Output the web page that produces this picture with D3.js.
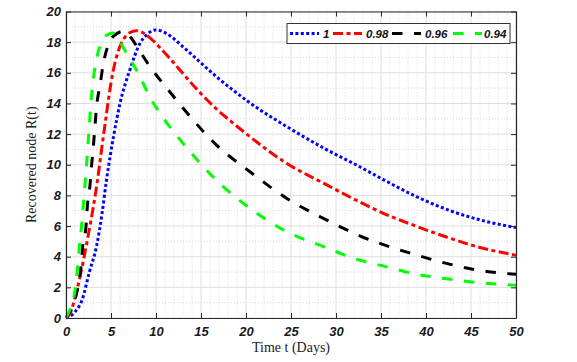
<!DOCTYPE html>
<html>
<head>
<meta charset="utf-8">
<script src="https://d3js.org/d3.v7.min.js"></script>
<style>
  body { margin: 0; background: #fff; }
  svg { display: block; }
  .tick text { font-family: "Liberation Sans", Arial, sans-serif; font-weight: bold; font-style: italic; font-size: 13px; fill: #1a1a1a; }
  .axis-title { font-family: "Liberation Serif", "Times New Roman", serif; font-size: 14px; fill: #222; }
</style>
</head>
<body>
<svg id="drawing_region"></svg>
<script>
// series labels (alpha)
const seriesNames = ['1', '0.98', '0.96', '0.94'];
const seriesColors = ['#0000ff', '#ff0000', '#000000', '#00ff00'];

// values: time (days) and R(t)
const t1 = [0, 1, 1.8, 2.6, 3.4, 4.0, 4.5, 5.3, 6.0, 7.1, 8.2, 9.0, 10.0, 11.2, 13.0, 14.8, 16.7, 18.6, 20.4, 24.5, 28.6, 32.7, 35.2, 39, 42.7, 46, 50];
const r1 = [0, 0.4, 1.2, 3.0, 4.7, 6.8, 9.0, 11.9, 14.0, 16.2, 17.9, 18.5, 18.8, 18.55, 17.7, 16.75, 15.75, 14.85, 14.05, 12.5, 11.1, 9.85, 9.05, 7.9, 7.0, 6.4, 5.9];

const t098 = [0, 0.45, 1.2, 1.95, 2.5, 3.05, 3.5, 4.0, 4.4, 4.8, 5.2, 5.8, 6.4, 7.0, 7.8, 8.6, 9.3, 10.5, 11.6, 13.0, 14.5, 16.7, 18.5, 20.4, 22.5, 24.5, 28.6, 32.7, 35.2, 39, 42.7, 46, 50];
const r098 = [0, 0.3, 1.8, 3.8, 5.5, 7.3, 9.0, 11.2, 12.9, 14.6, 16.0, 17.4, 18.2, 18.6, 18.75, 18.6, 18.3, 17.6, 16.9, 15.95, 14.95, 13.65, 12.75, 11.85, 10.9, 10.1, 8.8, 7.55, 6.85, 5.97, 5.2, 4.6, 4.1];

const t096 = [0, 0.6, 1.26, 1.67, 1.85, 2.22, 2.37, 2.67, 2.85, 3.04, 3.22, 3.4, 3.78, 4.15, 4.8, 5.5, 6.3, 7.2, 8.1, 9.33, 11.2, 13, 16.7, 20.4, 24.5, 28.6, 31.2, 32.7, 35.2, 39, 42.7, 46, 50];
const r096 = [0, 0.6, 1.83, 3.35, 4.66, 5.97, 7.27, 8.69, 10.0, 11.2, 12.5, 13.8, 15.2, 16.6, 17.95, 18.5, 18.7, 18.3, 17.5, 16.4, 15.0, 13.7, 11.3, 9.56, 7.82, 6.5, 5.75, 5.35, 4.8, 4.1, 3.5, 3.1, 2.85];

const t094 = [0, 0.4, 1.0, 1.3, 1.5, 1.74, 1.93, 2.11, 2.3, 2.45, 2.6, 2.76, 2.98, 3.33, 3.96, 4.5, 5.2, 6.0, 7.0, 8.0, 9.33, 11.0, 13.0, 16.7, 21.2, 24.5, 28.6, 32.3, 35.2, 39, 42.7, 46, 50];
const r094 = [0, 0.5, 1.8, 3.35, 4.75, 6.1, 7.4, 8.7, 10.1, 11.4, 12.6, 14.0, 15.3, 16.7, 18.0, 18.45, 18.6, 18.0, 17.0, 16.0, 14.4, 12.9, 11.4, 9.0, 6.84, 5.64, 4.66, 3.83, 3.4, 2.85, 2.53, 2.3, 2.14];

const xTicks = [0, 5, 10, 15, 20, 25, 30, 35, 40, 45, 50];
const yTicks = [0, 2, 4, 6, 8, 10, 12, 14, 16, 18, 20];

const seriesT = [t1, t098, t096, t094];
const seriesR = [r1, r098, r096, r094];
const dashes = ['3,2.4', '10,3.5,4,3.5', '10.5,11.5', '10.5,11.5'];

const config = {
    width: 577,
    height: 362,
    margin: {top: 11.5, right: 61, bottom: 44, left: 66}
};

const svg = d3.select('#drawing_region')
    .attr('width', config.width)
    .attr('height', config.height);

const innerW = config.width - config.margin.left - config.margin.right;
const innerH = config.height - config.margin.top - config.margin.bottom;

const chart = svg.append('g')
    .attr('transform', `translate(${config.margin.left}, ${config.margin.top})`);

const x = d3.scaleLinear().domain([0, 50]).range([0, innerW]);
const y = d3.scaleLinear().domain([0, 20]).range([innerH, 0]);

// minor grid (dotted)
chart.append('g')
    .selectAll('line')
    .data(d3.range(1, 50).filter(d => d % 5 !== 0))
    .join('line')
    .attr('x1', d => x(d)).attr('x2', d => x(d))
    .attr('y1', 0).attr('y2', innerH)
    .attr('stroke', '#cfcfcf').attr('stroke-width', 0.8)
    .attr('stroke-dasharray', '1,2');
chart.append('g')
    .selectAll('line')
    .data(d3.range(1, 20, 2))
    .join('line')
    .attr('x1', 0).attr('x2', innerW)
    .attr('y1', d => y(d)).attr('y2', d => y(d))
    .attr('stroke', '#cfcfcf').attr('stroke-width', 0.8)
    .attr('stroke-dasharray', '1,2');

// major grid
chart.append('g')
    .selectAll('line')
    .data(xTicks)
    .join('line')
    .attr('x1', d => x(d)).attr('x2', d => x(d))
    .attr('y1', 0).attr('y2', innerH)
    .attr('stroke', '#dedede').attr('stroke-width', 1);
chart.append('g')
    .selectAll('line')
    .data(yTicks)
    .join('line')
    .attr('x1', 0).attr('x2', innerW)
    .attr('y1', d => y(d)).attr('y2', d => y(d))
    .attr('stroke', '#dedede').attr('stroke-width', 1);

// curves
const line = d3.line()
    .x(d => x(d[0]))
    .y(d => y(d[1]))
    .curve(d3.curveMonotoneX);

seriesNames.forEach((name, i) => {
    const pts = seriesT[i].map((t, j) => [t, seriesR[i][j]]);
    chart.append('path')
        .datum(pts)
        .attr('d', line)
        .attr('fill', 'none')
        .attr('stroke', seriesColors[i])
        .attr('stroke-width', 3)
        .attr('stroke-dasharray', dashes[i]);
});

// axes with inward ticks on all four sides
const xAxis = chart.append('g')
    .attr('transform', `translate(0, ${innerH})`)
    .call(d3.axisBottom(x).tickValues(xTicks).tickSizeInner(-5).tickSizeOuter(0).tickPadding(9));
const yAxis = chart.append('g')
    .call(d3.axisLeft(y).tickValues(yTicks).tickSizeInner(-5).tickSizeOuter(0).tickPadding(5));
const xTop = chart.append('g')
    .call(d3.axisTop(x).tickValues(xTicks).tickSizeInner(-5).tickSizeOuter(0).tickFormat(''));
const yRight = chart.append('g')
    .attr('transform', `translate(${innerW}, 0)`)
    .call(d3.axisRight(y).tickValues(yTicks).tickSizeInner(-5).tickSizeOuter(0).tickFormat(''));

[xAxis, yAxis, xTop, yRight].forEach(a => {
    a.select('.domain').attr('stroke', '#262626').attr('stroke-width', 1.2);
    a.selectAll('.tick line').attr('stroke', '#262626');
});

// axis titles
svg.append('text')
    .attr('class', 'axis-title')
    .attr('text-anchor', 'middle')
    .attr('x', config.margin.left + innerW / 2)
    .attr('y', 352)
    .text('Time t (Days)');
svg.append('text')
    .attr('class', 'axis-title')
    .attr('text-anchor', 'middle')
    .attr('transform', `translate(36, ${config.margin.top + innerH / 2}) rotate(-90)`)
    .text('Recovered node R(t)');

// legend
const legend = svg.append('g');
legend.append('rect')
    .attr('x', 287).attr('y', 23.5)
    .attr('width', 223).attr('height', 20)
    .attr('fill', '#fff')
    .attr('stroke', '#333').attr('stroke-width', 1);

const legX = [290, 333, 392, 453];
const legTextX = [323, 366, 425, 484];
seriesNames.forEach((name, i) => {
    legend.append('line')
        .attr('x1', legX[i]).attr('x2', legX[i] + 29)
        .attr('y1', 33.5).attr('y2', 33.5)
        .attr('stroke', seriesColors[i])
        .attr('stroke-width', 3)
        .attr('stroke-dasharray', dashes[i]);
    legend.append('text')
        .attr('x', legTextX[i])
        .attr('y', 33.5)
        .attr('dy', '0.36em')
        .attr('font-family', '"Liberation Sans", Arial, sans-serif')
        .attr('font-weight', 'bold')
        .attr('font-style', 'italic')
        .attr('font-size', '11.5px')
        .attr('fill', '#111')
        .text(name);
});
</script>
</body>
</html>
